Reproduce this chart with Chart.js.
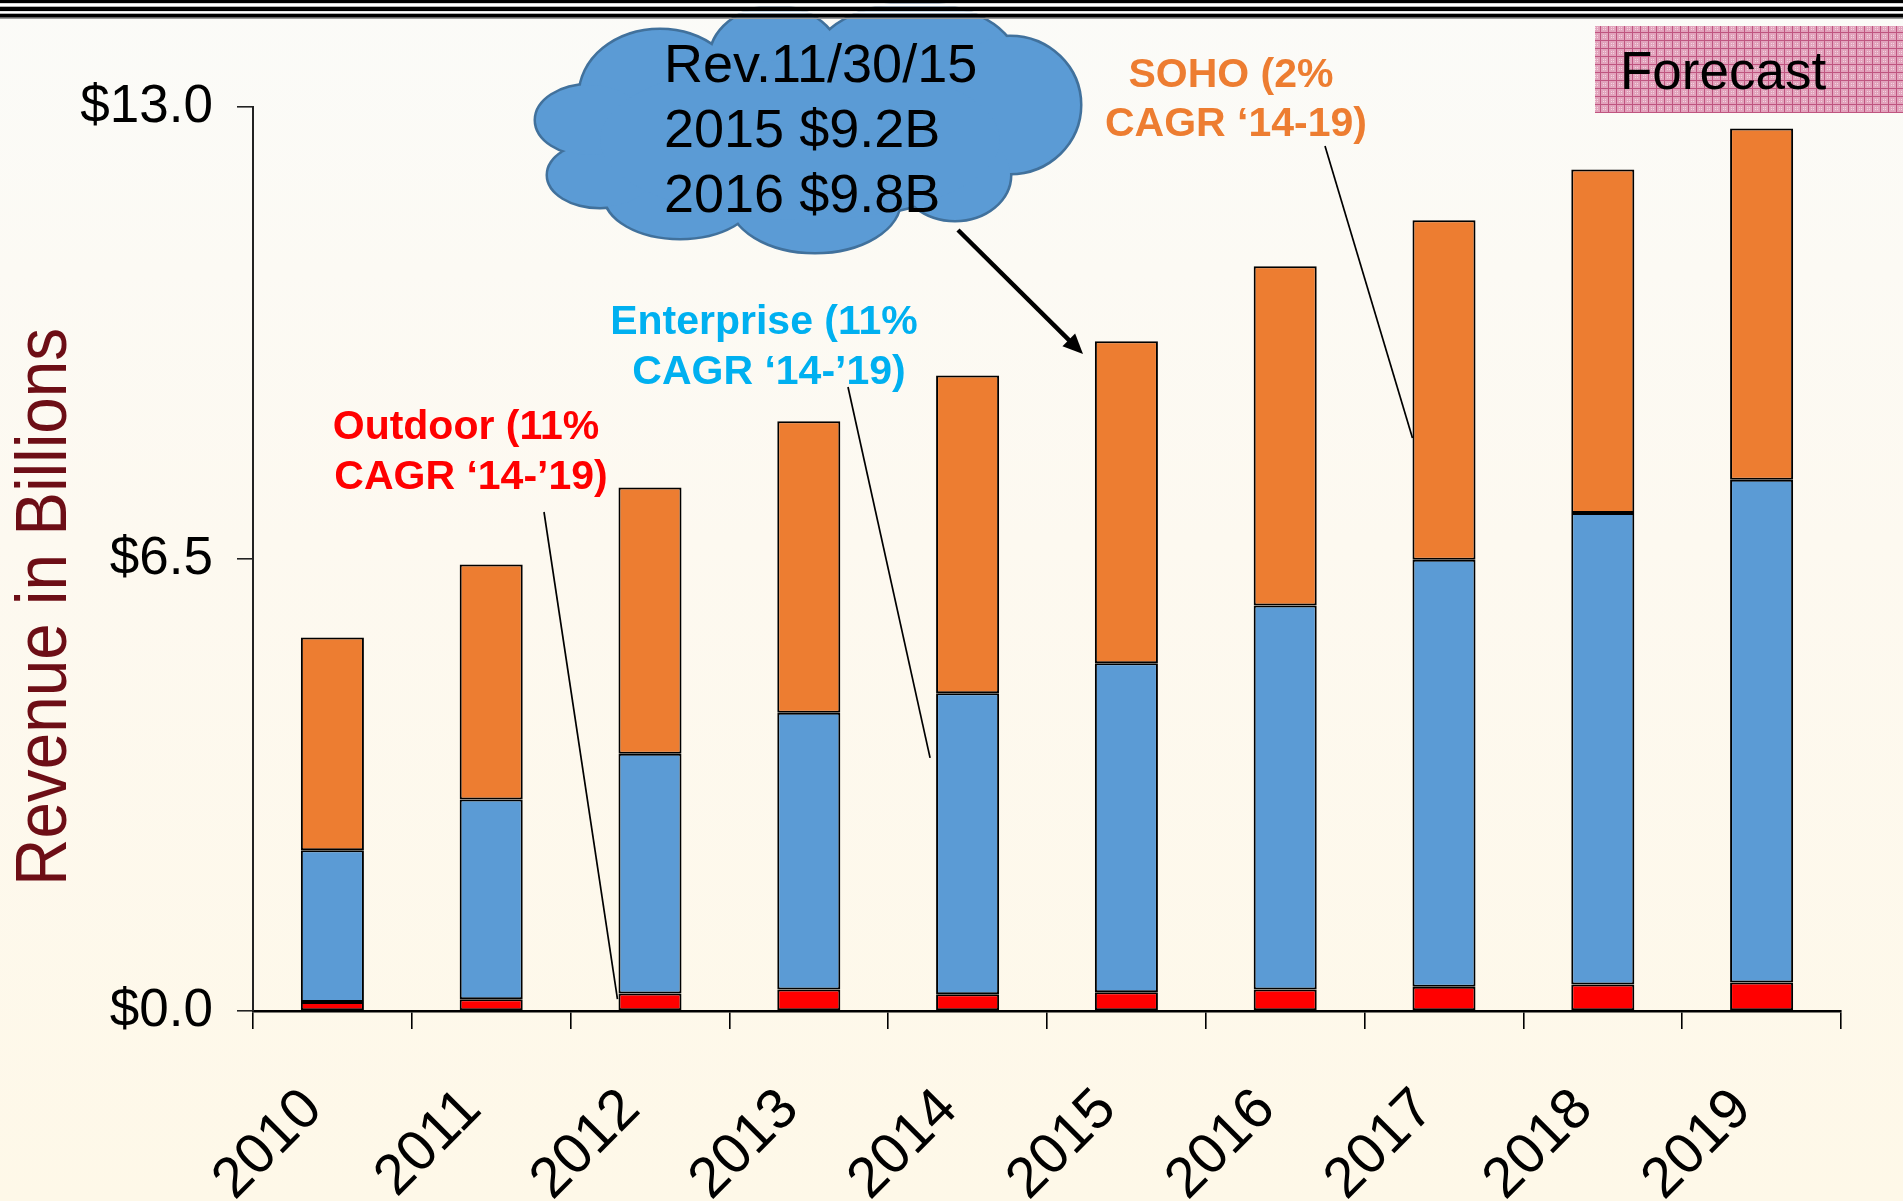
<!DOCTYPE html>
<html><head><meta charset="utf-8">
<script src="https://cdn.jsdelivr.net/npm/chart.js@4.4.1/dist/chart.umd.min.js"></script>
<style>
html,body{margin:0;padding:0;}
body{width:1903px;height:1201px;overflow:hidden;background:linear-gradient(to bottom,#FBFBF8 0%,#FDF9F0 45%,#FEF8E8 100%);}
#wrap{position:absolute;left:0;top:0;width:1903px;height:1201px;}
</style></head><body>
<div id="wrap"><canvas id="c"></canvas></div>
<script>
// ---- data ----
const categories = ['2010','2011','2012','2013','2014','2015','2016','2017','2018','2019'];
const outdoor    = [0.13, 0.17, 0.25, 0.31, 0.24, 0.27, 0.31, 0.35, 0.38, 0.41];
const enterprise = [2.18, 2.87, 3.45, 3.98, 4.33, 4.73, 5.52, 6.14, 6.78, 7.23];
const soho       = [3.06, 3.38, 3.83, 4.19, 4.57, 4.63, 4.88, 4.88, 4.94, 5.05];
const yMin = 0, yMax = 13, yStep = 6.5;
const yTickLabels = ['$0.0', '$6.5', '$13.0'];
const yTitle = 'Revenue in Billions';
const cloudLines = ['Rev.11/30/15', '2015 $9.2B', '2016 $9.8B'];
const forecastLabel = 'Forecast';
const outdoorNote = ['Outdoor (11%', 'CAGR \u201814-\u201919)'];
const enterpriseNote = ['Enterprise (11%', 'CAGR \u201814-\u201919)'];
const sohoNote = ['SOHO (2%', 'CAGR \u201814-19)'];

const FONT = "'Liberation Sans', Arial, Helvetica, sans-serif";

function makePattern(ctx){
  const p = document.createElement('canvas'); p.width = 8; p.height = 8;
  const g = p.getContext('2d');
  g.fillStyle = '#E2A3BC'; g.fillRect(0,0,8,8);
  g.fillStyle = '#BF5580'; g.fillRect(0,0,8,1); g.fillRect(0,0,1,8);
  g.fillStyle = '#F3D3E0'; g.fillRect(3,3,1,1); g.fillRect(5,5,1,1); g.fillRect(3,5,1,1); g.fillRect(5,3,1,1);
  return ctx.createPattern(p, 'repeat');
}

const decor = {
  id: 'decor',
  beforeDraw(chart){
    const ctx = chart.ctx;
    ctx.save();
    ctx.fillStyle = makePattern(ctx);
    ctx.fillRect(1595, 26, 308, 87);
    ctx.fillStyle = '#000';
    ctx.font = '53px ' + FONT;
    ctx.textAlign = 'left'; ctx.textBaseline = 'alphabetic';
    ctx.fillText(forecastLabel, 1620, 89);
    ctx.restore();
  },
  afterDraw(chart){
    const ctx = chart.ctx;
    const ys = chart.scales.y;
    const W = chart.width;
    ctx.save();
    // y title
    ctx.save();
    ctx.translate(66, 607);
    ctx.rotate(-Math.PI/2);
    ctx.fillStyle = '#6D0E16';
    ctx.font = '72px ' + FONT;
    ctx.textAlign = 'center'; ctx.textBaseline = 'alphabetic';
    ctx.fillText(yTitle, 0, 0, 558);
    ctx.restore();

    // leader lines
    function barLeft(ds, i){ const b = chart.getDatasetMeta(ds).data[i]; return b.x - b.width/2; }
    ctx.strokeStyle = '#000'; ctx.lineWidth = 1.7;
    ctx.beginPath(); ctx.moveTo(544, 512); ctx.lineTo(barLeft(0,2) - 1, ys.getPixelForValue(0.17)); ctx.stroke();
    ctx.beginPath(); ctx.moveTo(848, 387); ctx.lineTo(barLeft(1,4) - 6, ys.getPixelForValue(3.64)); ctx.stroke();
    ctx.beginPath(); ctx.moveTo(1325, 146); ctx.lineTo(barLeft(2,7), ys.getPixelForValue(8.24)); ctx.stroke();

    // annotation texts
    ctx.font = 'bold 41px ' + FONT;
    ctx.textAlign = 'center'; ctx.textBaseline = 'alphabetic';
    ctx.fillStyle = '#FF0000';
    ctx.fillText(outdoorNote[0], 466, 439); ctx.fillText(outdoorNote[1], 471, 489);
    ctx.fillStyle = '#00B0F0';
    ctx.fillText(enterpriseNote[0], 764, 334); ctx.fillText(enterpriseNote[1], 769, 384);
    ctx.fillStyle = '#ED7D31';
    ctx.fillText(sohoNote[0], 1231, 87); ctx.fillText(sohoNote[1], 1236, 136);

    // arrow
    const ax0 = 958, ay0 = 230, ax1 = 1083, ay1 = 354;
    const ang = Math.atan2(ay1-ay0, ax1-ax0);
    ctx.strokeStyle = '#000'; ctx.lineWidth = 4.5;
    ctx.beginPath(); ctx.moveTo(ax0, ay0);
    ctx.lineTo(ax1 - 14*Math.cos(ang), ay1 - 14*Math.sin(ang)); ctx.stroke();
    ctx.fillStyle = '#000';
    ctx.beginPath();
    ctx.moveTo(ax1, ay1);
    ctx.lineTo(ax1 - 20*Math.cos(ang) + 9*Math.sin(ang), ay1 - 20*Math.sin(ang) - 9*Math.cos(ang));
    ctx.lineTo(ax1 - 20*Math.cos(ang) - 9*Math.sin(ang), ay1 - 20*Math.sin(ang) + 9*Math.cos(ang));
    ctx.closePath(); ctx.fill();

    // cloud
    const ells = [
      [660, 95, 80, 65], [775, 60, 65, 53], [915, 60, 100, 56], [1010, 105, 70, 68],
      [955, 175, 55, 45], [815, 200, 85, 52], [680, 195, 75, 43], [600, 175, 52, 32],
      [590, 120, 54, 35], [800, 140, 200, 80]
    ];
    ctx.lineWidth = 5; ctx.strokeStyle = '#41719C';
    ells.forEach(e => { ctx.beginPath(); ctx.ellipse(e[0], e[1], e[2], e[3], 0, 0, Math.PI*2); ctx.stroke(); });
    ctx.fillStyle = '#5B9BD5';
    ells.forEach(e => { ctx.beginPath(); ctx.ellipse(e[0], e[1], e[2], e[3], 0, 0, Math.PI*2); ctx.fill(); });
    ctx.fillStyle = '#000';
    ctx.font = '54px ' + FONT;
    ctx.textAlign = 'left'; ctx.textBaseline = 'alphabetic';
    ctx.fillText(cloudLines[0], 664, 82);
    ctx.fillText(cloudLines[1], 664, 147);
    ctx.fillText(cloudLines[2], 664, 212);

    // top rules
    ctx.fillStyle = '#000'; ctx.fillRect(0, 0, W, 3.4);
    ctx.fillStyle = '#FFFFFF'; ctx.fillRect(0, 3.4, W, 3.3);
    ctx.fillStyle = '#000'; ctx.fillRect(0, 6.7, W, 4.6);
    ctx.fillStyle = '#FFFFFF'; ctx.fillRect(0, 11.3, W, 2.4);
    ctx.fillStyle = '#000'; ctx.fillRect(0, 13.7, W, 4);
    ctx.fillStyle = '#9A9A9A'; ctx.fillRect(0, 17.7, W, 1.3);
    ctx.restore();
  }
};

const ctx = document.getElementById('c').getContext('2d');
new Chart(ctx, {
  type: 'bar',
  data: {
    labels: categories,
    datasets: [
      { label: 'Outdoor', data: outdoor, backgroundColor: '#FF0000' },
      { label: 'Enterprise', data: enterprise, backgroundColor: '#5B9BD5' },
      { label: 'SOHO', data: soho, backgroundColor: '#ED7D31' }
    ]
  },
  options: {
    responsive: true, maintainAspectRatio: false, animation: false, devicePixelRatio: 1,
    layout: { padding: { top: 107, right: 62, bottom: 0, left: 0 } },
    datasets: { bar: { barPercentage: 0.397, categoryPercentage: 1, borderColor: '#000', borderWidth: 2, borderSkipped: false } },
    plugins: { legend: { display: false }, tooltip: { enabled: false }, title: { display: false } },
    scales: {
      x: {
        stacked: true,
        grid: { display: true, offset: true, drawOnChartArea: false, drawTicks: true, tickLength: 18, color: '#000', lineWidth: 1.6 },
        border: { display: true, color: '#000', width: 2.5 },
        ticks: { font: { family: FONT, size: 57 }, color: '#000', minRotation: 45, maxRotation: 45, autoSkip: false, padding: 47, labelOffset: -19 },
        afterFit: s => { s.height = 190; }
      },
      y: {
        stacked: true, min: yMin, max: yMax,
        grid: { display: true, drawOnChartArea: false, drawTicks: true, tickLength: 16, color: '#222', lineWidth: 1.6 },
        border: { display: true, color: '#222', width: 2 },
        ticks: { stepSize: yStep, font: { family: FONT, size: 53 }, color: '#000', padding: 24,
          callback: (v, i) => yTickLabels[i] },
        afterFit: s => { s.width = 253; }
      }
    }
  },
  plugins: [decor]
});
</script>
</body></html>
